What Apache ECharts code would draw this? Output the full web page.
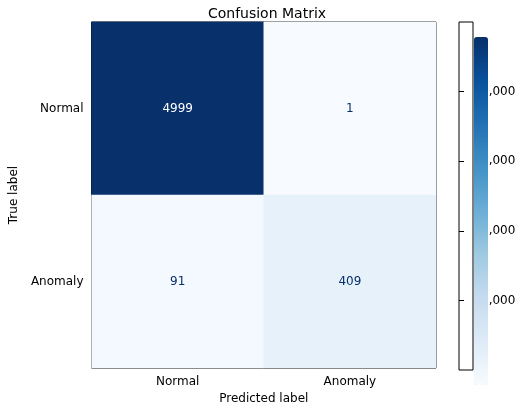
<!DOCTYPE html><html><head><meta charset="utf-8">
<script src="https://cdn.jsdelivr.net/npm/echarts@6/dist/echarts.min.js"></script>
<style>html,body{margin:0;background:#fff}#c{width:520px;height:410px}</style></head><body><div id="c"></div>
<script>
const categories=['Normal','Anomaly'];
const trueLabels=['Normal','Anomaly'];
const matrix=[[4999,1],[91,409]];
const colorTicks=[1000,2000,3000,4000];
const data=[];
matrix.forEach((row,i)=>row.forEach((v,j)=>data.push({value:[j,i,v],label:{color:v>2500?'#ffffff':'#08306b'}})));
const F='DejaVu Sans';
const chart=echarts.init(document.getElementById('c'));
chart.setOption({
 animation:false,
 textStyle:{fontFamily:F},
 title:{text:'Confusion Matrix',left:262,top:2,textAlign:'center',textStyle:{fontFamily:F,fontSize:14,fontWeight:'normal',color:'#000'}},
 grid:[{left:88,top:22,width:348,height:348,show:true,borderColor:'#000',borderWidth:1},
       {left:459,top:22,width:14,height:348,show:true,borderColor:'#000',borderWidth:1,backgroundColor:'transparent'}],
 xAxis:[{type:'category',data:categories,gridIndex:0,name:'Predicted label',nameLocation:'middle',nameGap:24,
   nameTextStyle:{fontSize:12,color:'#000'},axisLine:{show:false},axisTick:{alignWithLabel:true,lineStyle:{color:'#000'}},
   axisLabel:{fontSize:12,color:'#000'},splitLine:{show:false}},
  {type:'value',gridIndex:1,show:false}],
 yAxis:[{type:'category',data:trueLabels,inverse:true,gridIndex:0,name:'True label',nameLocation:'middle',nameGap:62,
   nameTextStyle:{fontSize:12,color:'#000'},axisLine:{show:false},axisTick:{alignWithLabel:true,lineStyle:{color:'#000'}},
   axisLabel:{fontSize:12,color:'#000'},splitLine:{show:false}},
  {type:'value',gridIndex:1,position:'right',min:1,max:4999,axisLine:{show:false},splitLine:{show:false},
   axisTick:{show:true,customValues:colorTicks,lineStyle:{color:'#000'}},
   axisLabel:{customValues:colorTicks,fontSize:12,color:'#000'}}],
 visualMap:{type:'continuous',min:1,max:4999,calculable:false,show:true,left:459,top:22,itemWidth:14,itemHeight:348,
   text:['',''],showLabel:false,seriesIndex:0,
   inRange:{color:['#f7fbff','#deebf7','#c6dbef','#9ecae1','#6baed6','#4292c6','#2171b5','#08519c','#08306b']}},
 series:[{type:'heatmap',xAxisIndex:0,yAxisIndex:0,data:data,
   label:{show:true,fontSize:12,fontFamily:F,formatter:p=>p.value[2]}}]
});
</script></body></html>
